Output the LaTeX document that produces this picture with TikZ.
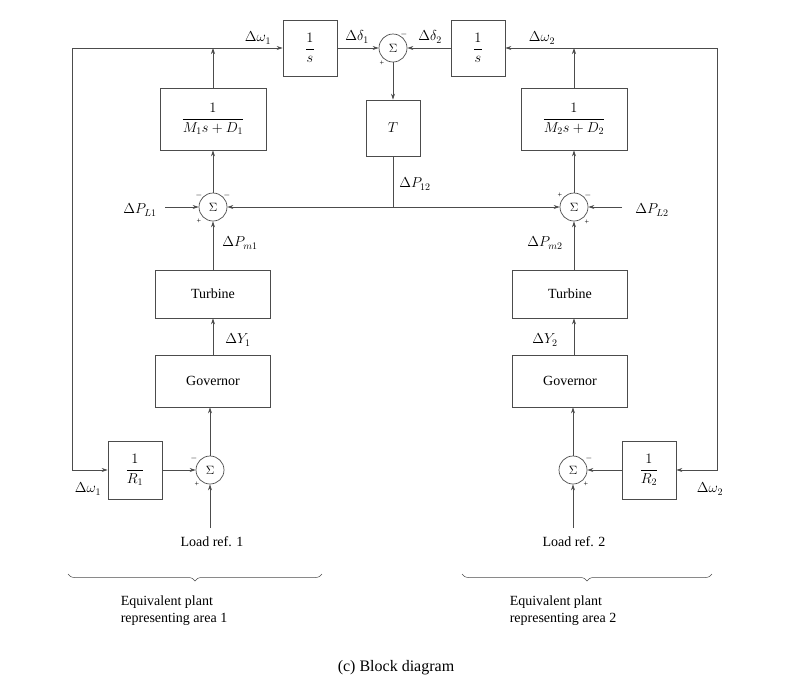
\documentclass[tikz,border=0pt]{standalone}
\usepackage{amsmath}
\usepackage{fontspec}
\setmainfont{Liberation Serif}
\usetikzlibrary{arrows.meta,decorations.pathreplacing}
\begin{document}
\begin{tikzpicture}[x=1pt,y=-1pt,
  blk/.style={draw=black!70,line width=0.7pt,minimum width=#1,inner sep=0pt,font=\fontsize{14}{16}\selectfont},
  blk/.default=54pt,
  sumnode/.style={draw=black!70,line width=0.7pt,circle,minimum size=28pt,inner sep=0pt,font=\fontsize{12}{12}\selectfont},
  con/.style={draw=black!70,line width=0.7pt},
  arr/.style={con,-{Stealth[length=6pt,width=4pt]}},
  lbl/.style={font=\fontsize{14}{16}\selectfont,inner sep=1pt},
  sgn/.style={font=\fontsize{8}{8}\selectfont,inner sep=0pt},
  txt/.style={font=\fontsize{14}{17}\selectfont}]
\useasboundingbox (0,0) rectangle (793,694);
% top row
\node[blk=54pt,minimum height=56pt] (s1) at (310,48) {$\dfrac{1}{s}$};
\node[blk=54pt,minimum height=56pt] (s2) at (478,48) {$\dfrac{1}{s}$};
\node[sumnode] (st) at (393,48) {$\Sigma$};
\node[blk=54pt,minimum height=56pt] (T) at (393,128) {$T$};
\node[blk=106pt,minimum height=62pt] (M1) at (213,119) {$\dfrac{1}{M_1 s+D_1}$};
\node[blk=106pt,minimum height=62pt] (M2) at (574,119) {$\dfrac{1}{M_2 s+D_2}$};
% mid sums
\node[sumnode] (sl) at (213,207) {$\Sigma$};
\node[sumnode] (sr) at (574,207) {$\Sigma$};
% turbines, governors
\node[blk=115pt,minimum height=48pt,txt] (tu1) at (213,294) {Turbine};
\node[blk=115pt,minimum height=48pt,txt] (tu2) at (570,294) {Turbine};
\node[blk=115pt,minimum height=52pt,txt] (g1) at (213,381) {Governor};
\node[blk=115pt,minimum height=52pt,txt] (g2) at (570,381) {Governor};
% bottom sums, R blocks
\node[sumnode] (sb1) at (210,470) {$\Sigma$};
\node[sumnode] (sb2) at (573,470) {$\Sigma$};
\node[blk=54pt,minimum height=58pt] (r1) at (135,470) {$\dfrac{1}{R_1}$};
\node[blk=54pt,minimum height=58pt] (r2) at (649,470) {$\dfrac{1}{R_2}$};
% coordinates
\coordinate (j1) at (213,48);
\coordinate (j2) at (574,48);
\coordinate (cl) at (72,48);
\coordinate (cr) at (717,48);
\coordinate (jt) at (393,207);
\coordinate (pl1) at (165,207);
\coordinate (pl2) at (622,207);
\coordinate (lr1) at (210,528);
\coordinate (lr2) at (573,528);
% connectors
\draw[arr] (M1.north) -- (j1);
\draw[arr] (j1) -- (s1.west);
\draw[arr] (j1) -- (cl) -- (cl|-r1.west) -- (r1.west);
\draw[arr] (M2.north) -- (j2);
\draw[arr] (j2) -- (s2.east);
\draw[arr] (j2) -- (cr) -- (cr|-r2.east) -- (r2.east);
\draw[arr] (s1.east) -- (st.west);
\draw[arr] (s2.west) -- (st.east);
\draw[arr] (st.south) -- (T.north);
\draw[con] (T.south) -- (jt);
\draw[arr] (jt) -- (sl.east);
\draw[arr] (jt) -- (sr.west);
\draw[arr] (pl1) -- (sl.west);
\draw[arr] (pl2) -- (sr.east);
\draw[arr] (sl.north) -- (M1.south);
\draw[arr] (sr.north) -- (M2.south);
\draw[arr] (tu1.north-|sl.south) -- (sl.south);
\draw[arr] (tu2.north-|sr.south) -- (sr.south);
\draw[arr] (g1.north) -- (tu1.south);
\draw[arr] (g2.north-|sr.south) -- (tu2.south-|sr.south);
\draw[arr] (sb1.north) -- (sb1.north|-g1.south);
\draw[arr] (sb2.north) -- (sb2.north|-g2.south);
\draw[arr] (r1.east) -- (sb1.west);
\draw[arr] (r2.west) -- (sb2.east);
\draw[arr] (lr1) -- (sb1.south);
\draw[arr] (lr2) -- (sb2.south);
% labels
\node[lbl] (lw1) at (258,38) {$\Delta\omega_1$};
\node[lbl] (ld1) at (357,37) {$\Delta\delta_1$};
\node[lbl] (ld2) at (430,37) {$\Delta\delta_2$};
\node[lbl] (lw2) at (542,38) {$\Delta\omega_2$};
\node[lbl] (lp12) at (415,184) {$\Delta P_{12}$};
\node[lbl] (lpl1) at (140,210) {$\Delta P_{L1}$};
\node[lbl] (lpl2) at (652,210) {$\Delta P_{L2}$};
\node[lbl] (lpm1) at (240,243) {$\Delta P_{m1}$};
\node[lbl] (lpm2) at (545,243) {$\Delta P_{m2}$};
\node[lbl] (ly1) at (238,340) {$\Delta Y_1$};
\node[lbl] (ly2) at (545,340) {$\Delta Y_2$};
\node[lbl] (lw1b) at (88,489) {$\Delta\omega_1$};
\node[lbl] (lw2b) at (710,489) {$\Delta\omega_2$};
\node[txt] (ref1) at (212,542) {Load ref. 1};
\node[txt] (ref2) at (574,542) {Load ref. 2};
% signs
\node[sgn] at (382,63) {+};
\node[sgn] at (404,34) {$-$};
\node[sgn] at (199,195) {$-$};
\node[sgn] at (227,195) {$-$};
\node[sgn] at (199,221) {+};
\node[sgn] at (560,195) {+};
\node[sgn] at (588,195) {$-$};
\node[sgn] at (587,222) {+};
\node[sgn] at (194,458) {$-$};
\node[sgn] at (197,484) {+};
\node[sgn] at (589,458) {$-$};
\node[sgn] at (586,484) {+};
% braces
\draw[con,line width=0.5pt,decorate,decoration={brace,mirror,amplitude=7pt}] (68,574) -- (322,574);
\draw[con,line width=0.5pt,decorate,decoration={brace,mirror,amplitude=7pt}] (462,574) -- (712,574);
\node[txt,align=left] (eq1) at (174,611) {Equivalent plant\\representing area 1};
\node[txt,align=left] (eq2) at (563,611) {Equivalent plant\\representing area 2};
\node[font=\fontsize{16}{18}\selectfont] (cap) at (396,668) {(c) Block diagram};
\end{tikzpicture}
\end{document}
